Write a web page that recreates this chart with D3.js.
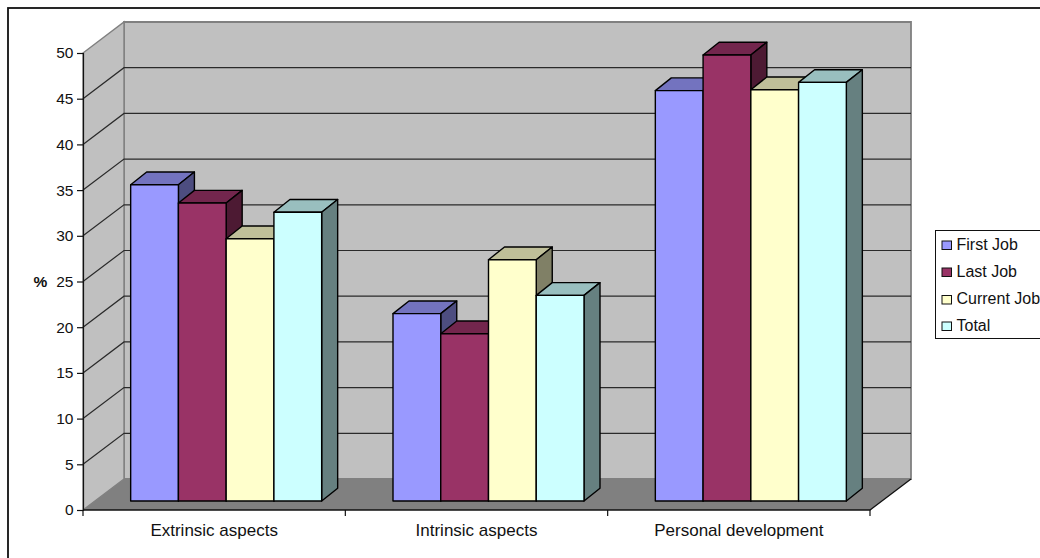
<!DOCTYPE html>
<html>
<head>
<meta charset="utf-8">
<script src="https://cdn.jsdelivr.net/npm/d3@7"></script>
<style>
  html, body { margin: 0; padding: 0; background: #fff; overflow: hidden; }
  svg { display: block; }
  text { font-family: "Liberation Sans", Arial, sans-serif; fill: #111; }
</style>
</head>
<body>
<svg id="chart" width="1040" height="558"></svg>
<script>
const categories = ["Extrinsic aspects", "Intrinsic aspects", "Personal development"];
const seriesNames = ["First Job", "Last Job", "Current Job", "Total"];
const firstJob = [34.6, 20.5, 44.9];
const lastJob = [32.6, 18.3, 48.8];
const currentJob = [28.7, 26.4, 45.0];
const total = [31.6, 22.5, 45.8];
const seriesValues = [firstJob, lastJob, currentJob, total];
const yTicks = [0, 5, 10, 15, 20, 25, 30, 35, 40, 45, 50];
const frontColors = ["#9999FF", "#993366", "#FFFFCC", "#CCFFFF"];
const topColors = ["#7373BF", "#73264D", "#BFBF99", "#99BFBF"];
const sideColors = ["#4D4D80", "#4D1A33", "#808066", "#668080"];

const svg = d3.select("#chart");

// Oblique projection: floor depth runs up and to the right.
const depthX = 41, depthY = -31;
const barDepthX = 16, barDepthY = -12.7;
const barShiftX = 12, barShiftY = -9;

const x = d3.scaleBand().domain(categories).range([83, 870]);
const y = d3.scaleLinear().domain([0, 50]).range([510, 53]);
const groupWidth = 191;
const barX = d3.scaleBand().domain(d3.range(seriesNames.length)).range([0, groupWidth]);

const poly = pts => pts.map(p => p.join(",")).join(" ");

// Outer frame runs off the right and bottom of the page.
svg.append("rect")
  .attr("x", 8).attr("y", 8).attr("width", 1200).attr("height", 700)
  .attr("fill", "#fff").attr("stroke", "#111").attr("stroke-width", 1.8);

const left = x.range()[0], right = x.range()[1];
const y0 = y(0), yMax = y(50);

// Back wall, side wall and floor
svg.append("polygon")
  .attr("points", poly([[left + depthX, yMax + depthY], [right + depthX, yMax + depthY], [right + depthX, y0 + depthY], [left + depthX, y0 + depthY]]))
  .attr("fill", "#C0C0C0").attr("stroke", "#808080").attr("stroke-width", 1.8);
svg.append("polygon")
  .attr("points", poly([[left, yMax], [left + depthX, yMax + depthY], [left + depthX, y0 + depthY], [left, y0]]))
  .attr("fill", "#C0C0C0").attr("stroke", "#808080").attr("stroke-width", 1.4);
svg.append("polygon")
  .attr("points", poly([[left, y0], [right, y0], [right + depthX, y0 + depthY], [left + depthX, y0 + depthY]]))
  .attr("fill", "#808080");

// Gridlines on both walls
const gridTicks = yTicks.filter(t => t > 0 && t < 50);
svg.append("g").selectAll("path").data(gridTicks).join("path")
  .attr("d", t => `M${left},${y(t)}L${left + depthX},${y(t) + depthY}L${right + depthX},${y(t) + depthY}`)
  .attr("fill", "none").attr("stroke", "#2a2a2a").attr("stroke-width", 1.2);

// Floor edges
svg.append("path")
  .attr("d", `M${left},${y0}L${right},${y0}L${right + depthX},${y0 + depthY}`)
  .attr("fill", "none").attr("stroke", "#111").attr("stroke-width", 1.3);

// Value axis
const yAxis = d3.axisLeft(y).tickValues(yTicks).tickSize(6).tickPadding(3.5);
const yG = svg.append("g").attr("transform", `translate(${left},0)`).call(yAxis);
yG.selectAll("path,line").attr("stroke", "#111").attr("stroke-width", 1.2);
yG.selectAll("text").attr("font-size", 15.5).style("font-family", '"Liberation Sans", Arial, sans-serif').attr("fill", "#111");

// Category axis, with ticks at the band edges and labels centred on the bands
const xTickPositions = [...categories.map(c => x(c)), right];
svg.append("g").selectAll("line").data(xTickPositions).join("line")
  .attr("x1", d => d).attr("x2", d => d).attr("y1", y0).attr("y2", y0 + 6)
  .attr("stroke", "#111").attr("stroke-width", 1.2);
svg.append("g").selectAll("text").data(categories).join("text")
  .attr("x", c => x(c) + x.bandwidth() / 2)
  .attr("y", 536)
  .attr("text-anchor", "middle")
  .attr("font-size", 17)
  .text(c => c);

svg.append("text")
  .attr("x", 33.5).attr("y", 287)
  .attr("font-size", 15.5).attr("font-weight", "bold")
  .text("%");

// Bars: each drawn as front, top and side faces, left to right so later bars overlap earlier ones
const bars = svg.append("g");
categories.forEach((cat, ci) => {
  const gx = x(cat) + (x.bandwidth() - groupWidth) / 2 + barShiftX;
  seriesValues.forEach((vals, si) => {
    const x0 = gx + barX(si), x1 = x0 + barX.bandwidth();
    const yb = y(0) + barShiftY;
    const yt = y(vals[ci]) + barShiftY;
    const g = bars.append("g").attr("stroke", "#000").attr("stroke-width", 1.4).attr("stroke-linejoin", "round");
    g.append("polygon")
      .attr("points", poly([[x0, yt], [x0 + barDepthX, yt + barDepthY], [x1 + barDepthX, yt + barDepthY], [x1, yt]]))
      .attr("fill", topColors[si]);
    g.append("polygon")
      .attr("points", poly([[x1, yt], [x1 + barDepthX, yt + barDepthY], [x1 + barDepthX, yb + barDepthY], [x1, yb]]))
      .attr("fill", sideColors[si]);
    g.append("rect")
      .attr("x", x0).attr("y", yt).attr("width", x1 - x0).attr("height", yb - yt)
      .attr("fill", frontColors[si]);
  });
});

// Legend
const legendRowY = [245, 272, 299.5, 326];
svg.append("rect")
  .attr("x", 935.5).attr("y", 230.5).attr("width", 140).attr("height", 108)
  .attr("fill", "#fff").attr("stroke", "#111").attr("stroke-width", 1);
const legend = svg.append("g").selectAll("g").data(seriesNames).join("g")
  .attr("transform", (d, i) => `translate(0,${legendRowY[i]})`);
legend.append("rect")
  .attr("x", 942).attr("y", -4).attr("width", 9.5).attr("height", 8.5)
  .attr("fill", (d, i) => frontColors[i]).attr("stroke", "#111").attr("stroke-width", 1);
legend.append("text")
  .attr("x", 956.5).attr("y", 4.5)
  .attr("font-size", 16)
  .text(d => d);
</script>
</body>
</html>
